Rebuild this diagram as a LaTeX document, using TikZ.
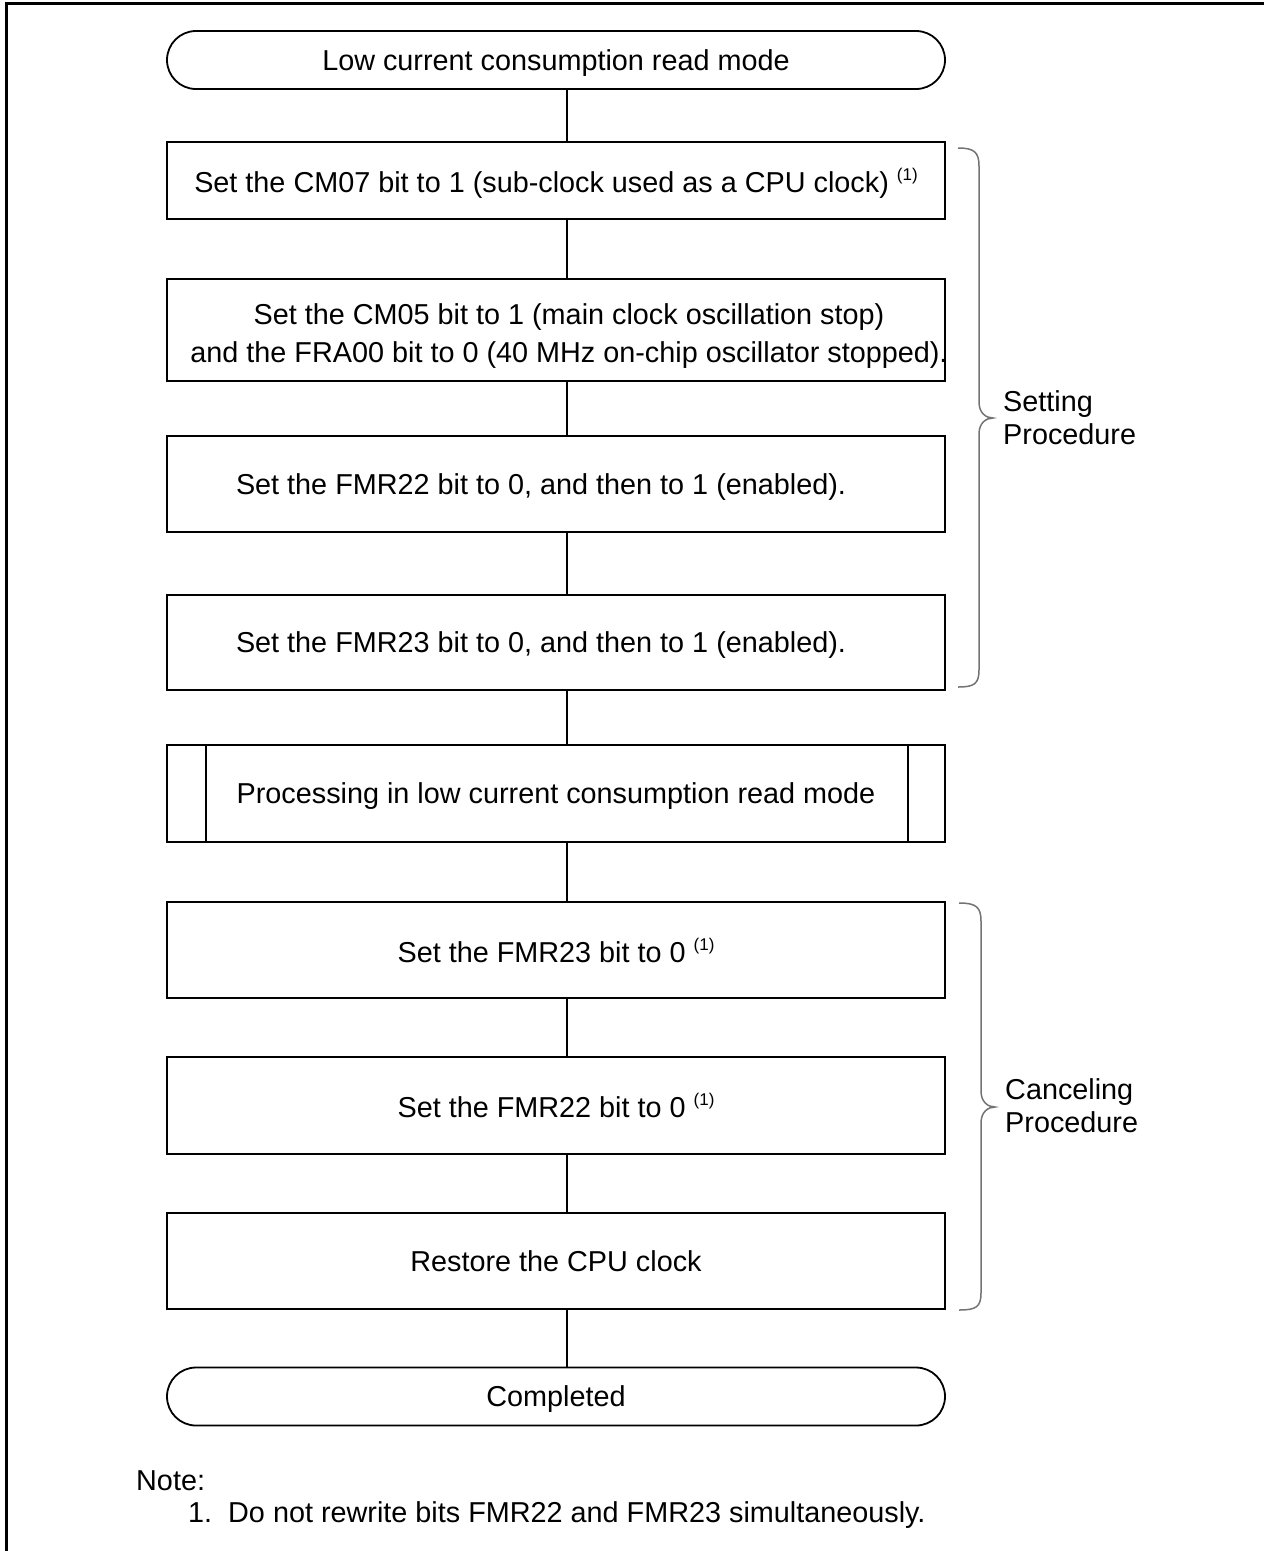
\documentclass[tikz,border=0pt]{standalone}
\usepackage{fontspec}
\setmainfont{Liberation Sans}
\newcommand\myfs{\fontsize{28.8}{33}\selectfont}
\newcommand\myref{\raisebox{0.42em}{\fontsize{17}{17}\selectfont (1)}}
\begin{document}
\begin{tikzpicture}[x=1pt,y=-1pt,
  stepbox/.style={draw, line width=1.8pt, minimum width=778pt, inner sep=0pt, align=center, font=\myfs, text depth=0pt},
  term/.style={draw, line width=1.8pt, minimum width=778pt, minimum height=58pt, rounded corners=29pt, inner sep=0pt, align=center, font=\myfs, text depth=0pt},
  conn/.style={line width=1.5pt},
  bracepath/.style={draw=black!55, line width=1.5pt},
  lbl/.style={font=\myfs, align=left, inner sep=0pt}]
\useasboundingbox (0,0) rectangle (1264,1551);
% outer frame (top and left only)
\draw[line width=3.5pt, line join=miter] (1264,3.5) -- (6.5,3.5) -- (6.5,1551);
\coordinate (cx) at (567,0);
% nodes
\node[term] (start) at (556,60) {Low current consumption read mode};
\node[stepbox, minimum height=77pt] (b1) at (556,180.5) {Set the CM07 bit to 1 (sub-clock used as a CPU clock) \myref};
\node[stepbox, minimum height=102pt] (b2) at (556,330) {};
\node[lbl, align=center, font=\fontsize{28.8}{38}\selectfont] (b2t) at (569,336) {Set the CM05 bit to 1 (main clock oscillation stop)\\and the FRA00 bit to 0 (40 MHz on-chip oscillator stopped).};
\node[stepbox, minimum height=96pt] (b3) at (556,484) {\hspace*{-30pt}Set the FMR22 bit to 0, and then to 1 (enabled).};
\node[stepbox, minimum height=95pt] (b4) at (556,642.5) {\hspace*{-30pt}Set the FMR23 bit to 0, and then to 1 (enabled).};
\node[stepbox, minimum height=97pt] (proc) at (556,793.5) {Processing in low current consumption read mode};
\draw[line width=1.8pt] ([xshift=40pt]proc.north west) -- ([xshift=40pt]proc.south west);
\draw[line width=1.8pt] ([xshift=-38pt]proc.north east) -- ([xshift=-38pt]proc.south east);
\node[stepbox, minimum height=96pt] (b5) at (556,950) {Set the FMR23 bit to 0 \myref};
\node[stepbox, minimum height=97pt] (b6) at (556,1105.5) {Set the FMR22 bit to 0 \myref};
\node[stepbox, minimum height=96pt] (b7) at (556,1261) {Restore the CPU clock};
\node[term] (end) at (556,1396.5) {Completed};
% connectors
\draw[conn] (start.south -| cx) -- (b1.north -| cx);
\draw[conn] (b1.south -| cx) -- (b2.north -| cx);
\draw[conn] (b2.south -| cx) -- (b3.north -| cx);
\draw[conn] (b3.south -| cx) -- (b4.north -| cx);
\draw[conn] (b4.south -| cx) -- (proc.north -| cx);
\draw[conn] (proc.south -| cx) -- (b5.north -| cx);
\draw[conn] (b5.south -| cx) -- (b6.north -| cx);
\draw[conn] (b6.south -| cx) -- (b7.north -| cx);
\draw[conn] (b7.south -| cx) -- (end.north -| cx);
% braces
\path[bracepath] (958,148) .. controls (974,148) and (979,152) .. (979,166) -- (979,402)
  .. controls (979,413) and (986,418) .. (993,418)
  .. controls (986,418) and (979,423) .. (979,434) -- (979,670)
  .. controls (979,684) and (974,687) .. (958,687);
\path[bracepath] (959,903) .. controls (976,903) and (981,907) .. (981,921) -- (981,1091)
  .. controls (981,1102) and (988,1107) .. (995,1107)
  .. controls (988,1107) and (981,1112) .. (981,1123) -- (981,1293)
  .. controls (981,1307) and (976,1310) .. (959,1310);
\node[lbl, anchor=west] (setp) at (1003,418) {Setting\\Procedure};
\node[lbl, anchor=west] (canp) at (1005,1106) {Canceling\\Procedure};
% note
\node[lbl, anchor=base west] (note) at (136,1490) {Note:};
\node[lbl, anchor=base west] (note1) at (188,1522) {1.\ \ Do not rewrite bits FMR22 and FMR23 simultaneously.};
\end{tikzpicture}
\end{document}
